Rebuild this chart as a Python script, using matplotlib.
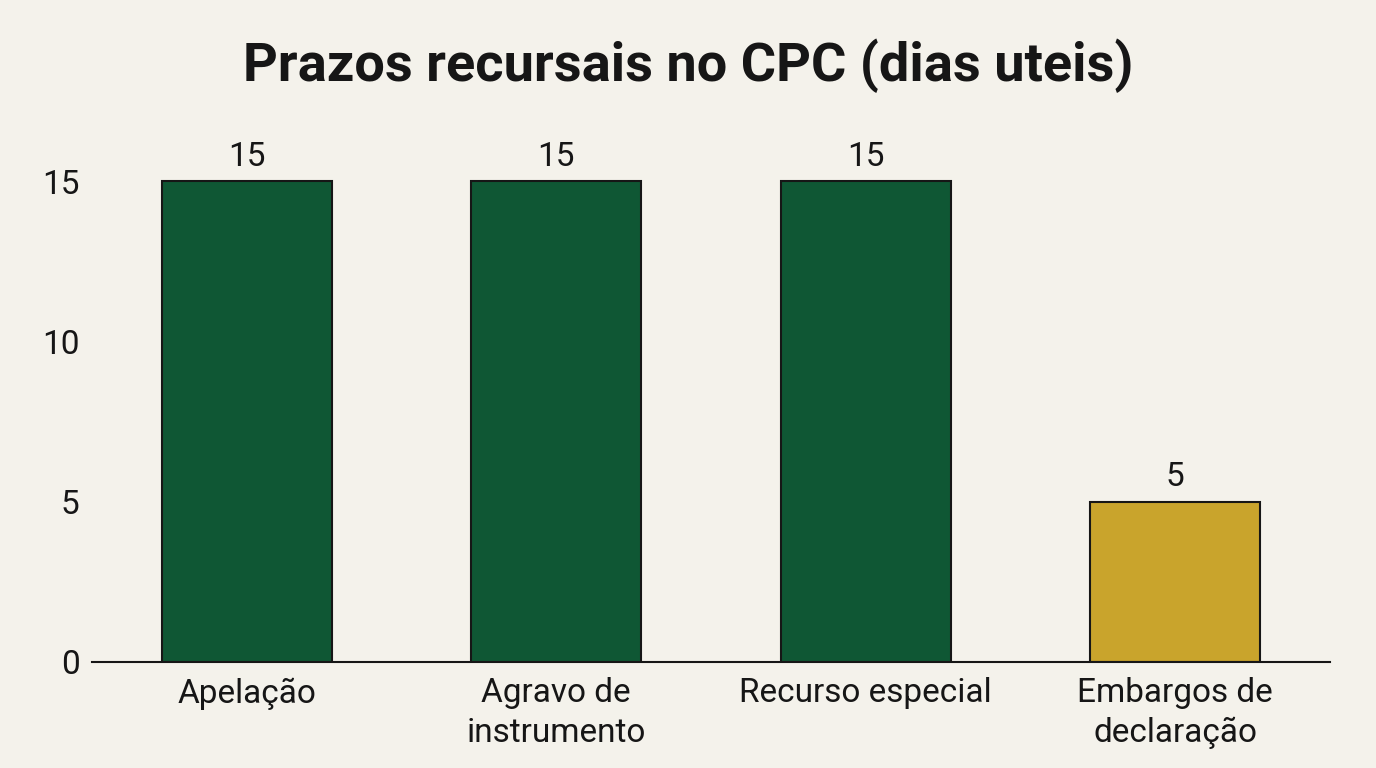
import matplotlib
matplotlib.use("Agg")
import matplotlib.pyplot as plt

plt.rcParams["font.family"] = ["Roboto", "DejaVu Sans"]

# data
recursos = ["Apelação", "Agravo de\ninstrumento", "Recurso especial", "Embargos de\ndeclaração"]
prazos_dias = [15, 15, 15, 5]
cores = ["#0f5734", "#0f5734", "#0f5734", "#c9a42c"]
yticks = [0, 5, 10, 15]

bg = "#f4f2eb"
ink = "#161616"

fig = plt.figure(figsize=(13.76, 7.68), dpi=100, facecolor=bg)
ax = fig.add_axes([92 / 1376, 1 - 662 / 768, (1330 - 92) / 1376, 529 / 768])
ax.set_facecolor(bg)

x = range(len(recursos))
bars = ax.bar(x, prazos_dias, width=0.55, color=cores, edgecolor=ink, linewidth=1.5, zorder=2)
for b, v in zip(bars, prazos_dias):
    ax.annotate(str(v), (b.get_x() + b.get_width() / 2, v), xytext=(0, 6),
                textcoords="offset points", ha="center", va="bottom",
                fontsize=24, color=ink)

ax.set_xlim(-0.5, 3.5)
ax.set_ylim(0, 16.5)
ax.set_xticks(list(x))
ax.set_xticklabels(recursos, fontsize=24, color=ink, linespacing=1.3)
ax.set_yticks(yticks)
ax.set_yticklabels([str(t) for t in yticks], fontsize=24, color=ink)
ax.tick_params(axis="both", length=0)
ax.tick_params(axis="x", pad=11)
ax.tick_params(axis="y", pad=9)
for s in ["top", "right", "left"]:
    ax.spines[s].set_visible(False)
ax.spines["bottom"].set_color(ink)
ax.spines["bottom"].set_linewidth(1.5)

fig.text(688 / 1376, 1 - 66 / 768, "Prazos recursais no CPC (dias uteis)",
         ha="center", va="center", fontsize=39, fontweight="bold", color=ink)

fig.savefig("out.png", dpi=100, facecolor=bg)
